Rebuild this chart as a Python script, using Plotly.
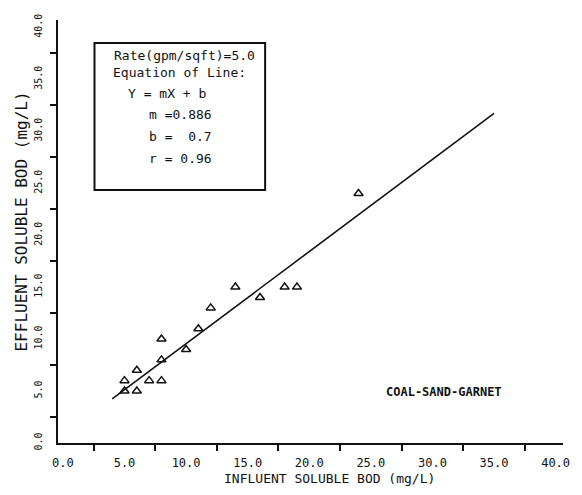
import plotly.graph_objects as go

# Influent vs. effluent soluble BOD, coal-sand-garnet filter at 5.0 gpm/sqft
influent_bod = [5, 5, 6, 6, 7, 8, 8, 8, 10, 11, 12, 14, 16, 18, 19, 24]
effluent_bod = [5, 6, 5, 7, 6, 6, 8, 10, 9, 11, 13, 15, 14, 15, 15, 24]

# regression line Y = mX + b
slope = 0.886
intercept = 0.7
r_value = 0.96
fit_x = [4.0, 35.0]
fit_y = [slope * x + intercept for x in fit_x]

tick_values = [0, 5, 10, 15, 20, 25, 30, 35, 40]
tick_labels = ["0.0", "5.0", "10.0", "15.0", "20.0", "25.0", "30.0", "35.0", "40.0"]
minor_ticks = [2.5, 7.5, 12.5, 17.5, 22.5, 27.5, 32.5, 37.5]

FONT = "DejaVu Sans Mono"
INK = "#111111"

fig = go.Figure()
fig.add_trace(go.Scatter(
    x=fit_x, y=fit_y, mode="lines",
    line=dict(color=INK, width=1.6), showlegend=False, hoverinfo="skip",
))
fig.add_trace(go.Scatter(
    x=influent_bod, y=effluent_bod, mode="markers",
    marker=dict(symbol="triangle-up-open", size=8, color=INK, line=dict(width=1.5, color=INK)),
    showlegend=False,
))

# plot area in pixels: left 58, right 570, top 20, bottom 443
W, H = 582, 495
L, R, T, B = 58, 570, 20, 443


def px(x):
    return (x - L) / (R - L)


def py(y):
    return (B - y) / (B - T)


axis_common = dict(
    tickmode="array", tickvals=tick_values, ticktext=tick_labels,
    ticks="outside", ticklen=0, showgrid=False, zeroline=False,
    showline=True, linecolor=INK, linewidth=2,
    minor=dict(tickmode="array", tickvals=minor_ticks, ticks="outside", ticklen=6,
               tickwidth=1.5, tickcolor=INK, showgrid=False),
)

fig.update_layout(
    width=W, height=H,
    margin=dict(l=L, r=W - R, t=T, b=H - B),
    paper_bgcolor="white", plot_bgcolor="white",
    font=dict(family=FONT, color=INK),
    xaxis=dict(range=[-0.4, 40.6], tickfont=dict(size=12), ticklabelstandoff=8, **axis_common),
    yaxis=dict(range=[0.0, 40.7], tickfont=dict(size=10), tickangle=-90,
               ticklabelstandoff=10, **axis_common),
)

# axis titles
fig.add_annotation(text="INFLUENT SOLUBLE BOD (mg/L)", xref="paper", yref="paper",
                   x=px(333), y=py(478), xanchor="center", yanchor="middle",
                   showarrow=False, font=dict(size=13))
fig.add_annotation(text="EFFLUENT SOLUBLE BOD (mg/L)", xref="paper", yref="paper",
                   x=px(20), y=py(222), xanchor="center", yanchor="middle",
                   textangle=-90, showarrow=False, font=dict(size=16))

# equation box
fig.add_shape(type="rect", xref="paper", yref="paper",
              x0=px(95), x1=px(268), y0=py(190), y1=py(43),
              line=dict(color=INK, width=2), fillcolor="white")

box_lines = [
    ("Rate(gpm/sqft)=5.0", 113, 55),
    ("Equation of Line:", 112, 73),
    ("Y = mX + b", 127, 93),
    (f"m ={slope:.3f}", 148, 114),
    (f"b =  {intercept:.1f}", 148, 136),
    (f"r = {r_value:.2f}", 148, 158),
]
for text, lx, ly in box_lines:
    fig.add_annotation(text=text, xref="paper", yref="paper", x=px(lx), y=py(ly),
                       xanchor="left", yanchor="middle", showarrow=False,
                       font=dict(size=13))

fig.add_annotation(text="<b>COAL-SAND-GARNET</b>", xref="paper", yref="paper",
                   x=px(449), y=py(392), xanchor="center", yanchor="middle",
                   showarrow=False, font=dict(size=12))

fig.write_html("out.html")
